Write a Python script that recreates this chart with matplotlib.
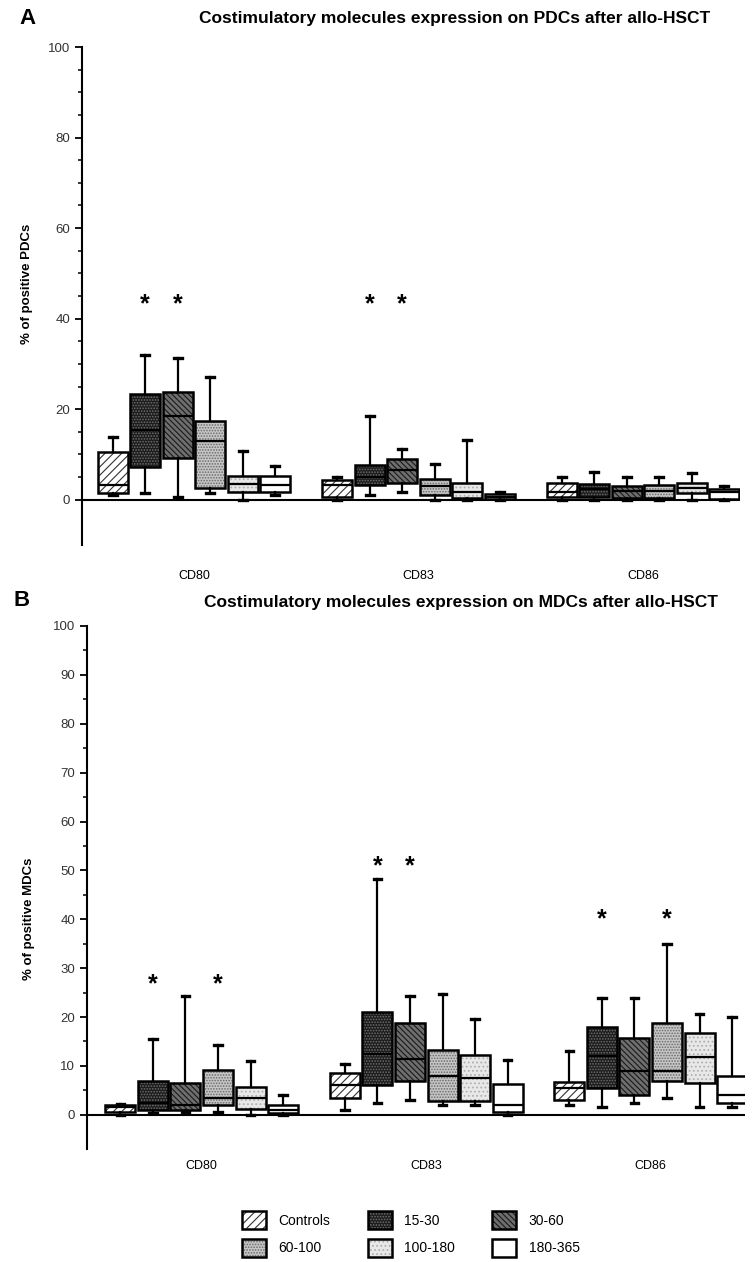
import numpy as np
import matplotlib.pyplot as plt
import matplotlib.transforms as mtransforms
from matplotlib.patches import Patch, PathPatch
from matplotlib.ticker import FixedLocator

plt.rcParams['font.family'] = ['Liberation Sans', 'DejaVu Sans']
plt.rcParams['hatch.linewidth'] = 0.8

markers = ["CD80", "CD83", "CD86"]
groups = ["Controls", "15-30", "30-60", "60-100", "100-180", "180-365"]

# ---- panel A: PDCs, rows = CD80/CD83/CD86, cols = groups
pdc_whislo = [[1.1, 1.5, 0.7, 1.5, 0.0, 1.1],
              [0.0, 1.1, 1.8, 0.0, 0.0, 0.0],
              [0.0, 0.0, 0.0, 0.0, 0.0, 0.0]]
pdc_q1 = [[1.5, 7.3, 9.3, 2.7, 1.8, 1.8],
          [0.7, 3.3, 3.8, 1.1, 0.4, 0.2],
          [0.7, 0.7, 0.4, 0.4, 1.5, 0.2]]
pdc_med = [[3.3, 15.3, 18.6, 13.0, 3.5, 3.3],
           [3.3, 5.0, 6.6, 3.1, 1.8, 0.7],
           [1.6, 2.4, 2.0, 2.0, 2.7, 1.8]]
pdc_q3 = [[10.6, 23.4, 23.7, 17.5, 5.3, 5.3],
          [4.4, 7.7, 9.1, 4.6, 3.8, 1.3],
          [3.8, 3.5, 3.1, 3.3, 3.8, 2.4]]
pdc_whishi = [[13.9, 31.9, 31.2, 27.2, 10.8, 7.5],
              [5.1, 18.4, 11.1, 8.0, 13.3, 1.8],
              [5.1, 6.2, 5.1, 5.1, 6.0, 3.1]]
pdc_stars = [(0, 1), (0, 2), (1, 1), (1, 2)]
pdc_star_y = [44.6, 44.6, 44.6, 44.6]

# ---- panel B: MDCs
mdc_whislo = [[0.0, 0.3, 0.5, 0.5, 0.0, 0.0],
              [1.0, 2.5, 3.0, 2.0, 2.0, 0.0],
              [2.0, 1.5, 2.5, 3.5, 1.5, 1.5]]
mdc_q1 = [[0.5, 1.0, 1.0, 2.0, 1.2, 0.3],
          [3.5, 6.0, 7.0, 2.8, 2.8, 0.5],
          [3.0, 5.5, 4.0, 7.0, 6.5, 2.5]]
mdc_med = [[1.5, 2.5, 2.0, 3.5, 3.5, 1.0],
           [6.0, 12.5, 11.5, 8.0, 7.5, 2.0],
           [5.5, 12.0, 9.0, 9.0, 11.8, 4.0]]
mdc_q3 = [[2.0, 7.0, 6.5, 9.2, 5.7, 2.0],
          [8.5, 21.0, 18.8, 13.3, 12.2, 6.3],
          [6.8, 18.0, 15.7, 18.8, 16.8, 8.0]]
mdc_whishi = [[2.3, 15.5, 24.2, 14.3, 11.0, 4.0],
              [10.3, 48.2, 24.2, 24.7, 19.6, 11.3],
              [13.0, 23.9, 23.9, 35.0, 20.6, 20.0]]
mdc_stars = [(0, 1), (0, 3), (1, 1), (1, 2), (2, 1), (2, 3)]
mdc_star_y = [28.0, 28.0, 52.0, 52.0, 41.3, 41.3]

# box styles per group
fills = ['white', '#1c1c1c', '#6e6e6e', '#c6c6c6', '#e8e8e8', 'white']
hatch_cols = ['#333333', '#6f6f6f', '#1a1a1a', '#6a6a6a', '#b0b0b0', 'white']
hatches = ['////', '......', '\\\\\\\\\\\\', '......', '....', '']

pitch = 0.1448
bw = 0.1336


def draw_panel(ax, whislo, q1, med, q3, whishi, stars, star_y):
    stats, pos, styles = [], [], []
    for g in range(len(markers)):
        for i in range(len(groups)):
            stats.append(dict(med=med[g][i], q1=q1[g][i], q3=q3[g][i],
                              whislo=whislo[g][i], whishi=whishi[g][i], fliers=[]))
            pos.append(g + (i - 2.5) * pitch)
            styles.append(i)
    bp = ax.bxp(stats, positions=pos, widths=bw, capwidths=0.034,
                patch_artist=True, showfliers=False, manage_ticks=False,
                whiskerprops=dict(color='black', lw=1.6),
                capprops=dict(color='black', lw=2.4),
                medianprops=dict(color='black', lw=1.6, zorder=4))
    for box, i in zip(bp['boxes'], styles):
        box.set_facecolor(fills[i])
        box.set_hatch(hatches[i])
        box.set_edgecolor(hatch_cols[i])
        box.set_linewidth(0)
        ax.add_patch(PathPatch(box.get_path(), fill=False, ec='black', lw=1.8, zorder=5))
    off = mtransforms.ScaledTranslation(0, -9.5 / 72, ax.figure.dpi_scale_trans)
    for (g, i), y in zip(stars, star_y):
        ax.text(g + (i - 2.5) * pitch, y, '*', ha='center', va='baseline',
                fontsize=18, fontweight='bold', transform=ax.transData + off)
    ax.axhline(0, color='black', lw=1.5, zorder=1)
    for s in ['top', 'right', 'bottom']:
        ax.spines[s].set_visible(False)
    ax.spines['left'].set_linewidth(1.5)
    ax.set_xticks(range(len(markers)), markers, fontsize=9)
    ax.tick_params(axis='x', length=0)
    ax.tick_params(axis='y', which='major', direction='out', length=5, width=1.3,
                   labelsize=9.5, labelcolor='#333333')
    ax.tick_params(axis='y', which='minor', direction='out', length=3, width=1.1)


fig = plt.figure(figsize=(7.54, 12.62), dpi=100)
H = 1262.0
W = 754.0

ax1 = fig.add_axes([82 / W, (H - 545) / H, (740 - 82) / W, (545 - 47) / H])
draw_panel(ax1, pdc_whislo, pdc_q1, pdc_med, pdc_q3, pdc_whishi, pdc_stars, pdc_star_y)
ax1.set_xlim((82 - 194) / 224.5, (740 - 194) / 224.5)
ax1.set_ylim(-10, 100)
ax1.set_yticks(range(0, 101, 20))
ax1.yaxis.set_minor_locator(FixedLocator([v for v in range(5, 100, 5) if v % 20]))
ax1.tick_params(axis='x', pad=18)
ax1.set_ylabel('% of positive PDCs', fontsize=9.5, fontweight='bold')
ax1.yaxis.set_label_coords((33 - 82) / 658, 0.524)

ax2 = fig.add_axes([87 / W, (H - 1149) / H, (745 - 87) / W, (1149 - 626) / H])
draw_panel(ax2, mdc_whislo, mdc_q1, mdc_med, mdc_q3, mdc_whishi, mdc_stars, mdc_star_y)
ax2.set_xlim((87 - 201.75) / 224.5, (745 - 201.75) / 224.5)
ax2.set_ylim(-7, 100)
ax2.set_yticks(range(0, 101, 10))
ax2.yaxis.set_minor_locator(FixedLocator(np.arange(5, 100, 10)))
ax2.tick_params(axis='x', pad=8)
ax2.set_ylabel('% of positive MDCs', fontsize=9.5, fontweight='bold')
ax2.yaxis.set_label_coords((35 - 87) / 658, 0.44)

fig.text(455 / W, 1 - 18 / H, 'Costimulatory molecules expression on PDCs after allo-HSCT',
         ha='center', va='center', fontsize=12.5, fontweight='bold')
fig.text(461 / W, 1 - 603 / H, 'Costimulatory molecules expression on MDCs after allo-HSCT',
         ha='center', va='center', fontsize=12.5, fontweight='bold')
fig.text(27 / W, 1 - 18 / H, 'A', ha='center', va='center', fontsize=16, fontweight='bold')
fig.text(22 / W, 1 - 600 / H, 'B', ha='center', va='center', fontsize=16, fontweight='bold')

# legend, filled row by row
handles = []
for i in range(len(groups)):
    handles.append((Patch(facecolor=fills[i], hatch=hatches[i], edgecolor=hatch_cols[i], lw=0),
                    Patch(fill=False, edgecolor='black', lw=1.8)))
order = [0, 3, 1, 4, 2, 5]
fig.legend([handles[k] for k in order], [groups[k] for k in order], ncol=3,
           loc='center', bbox_to_anchor=(411 / W, 1 - 1234 / H), frameon=False,
           fontsize=10, handlelength=1.7, handleheight=1.7, handletextpad=0.9,
           columnspacing=2.7, labelspacing=0.65)

fig.savefig('out.png', dpi=100)
